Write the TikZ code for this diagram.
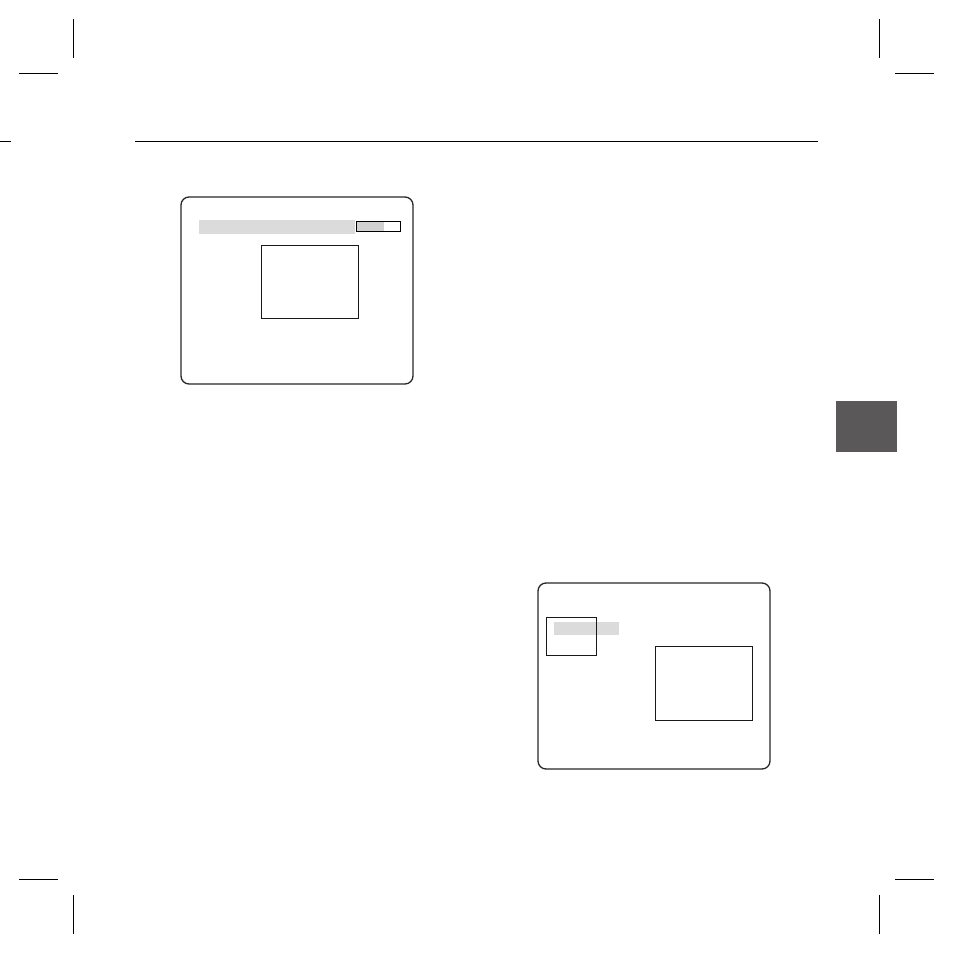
\documentclass[tikz,border=0pt]{standalone}
\begin{document}
\begin{tikzpicture}[x=1pt,y=-1pt,
  cropmark/.style={line width=0.9pt,black},
  screen/.style={draw=black!85,line width=1.3pt,rounded corners=8pt},
  frame/.style={draw=black!90,line width=1.2pt},
  graybar/.style={fill=black!14,draw=none}]
\useasboundingbox (0,0) rectangle (953,953);
% crop marks
\coordinate (tl1) at (73.3,19); \coordinate (tl2) at (73.3,58);
\draw[cropmark] (tl1) -- (tl2);
\coordinate (tl3) at (19,73); \coordinate (tl4) at (58,73);
\draw[cropmark] (tl3) -- (tl4);
\coordinate (tr1) at (879.5,19); \coordinate (tr2) at (879.5,58);
\draw[cropmark] (tr1) -- (tr2);
\coordinate (tr3) at (895,73); \coordinate (tr4) at (934,73);
\draw[cropmark] (tr3) -- (tr4);
\coordinate (bl1) at (19,879.5); \coordinate (bl2) at (58,879.5);
\draw[cropmark] (bl1) -- (bl2);
\coordinate (bl3) at (73.3,895); \coordinate (bl4) at (73.3,934);
\draw[cropmark] (bl3) -- (bl4);
\coordinate (br1) at (895,879.5); \coordinate (br2) at (934,879.5);
\draw[cropmark] (br1) -- (br2);
\coordinate (br3) at (879.5,895); \coordinate (br4) at (879.5,934);
\draw[cropmark] (br3) -- (br4);
\coordinate (lt1) at (0,141); \coordinate (lt2) at (11,141);
\draw[cropmark] (lt1) -- (lt2);
% top rule
\coordinate (r1) at (135,141); \coordinate (r2) at (818,141);
\draw[line width=1pt] (r1) -- (r2);
% dark tab
\fill[fill={rgb,255:red,90;green,88;blue,88}] (836,401) rectangle (897,452);
% screen 1
\draw[screen] (181,197) rectangle (413,384);
\fill[graybar] (199,220) rectangle (355,234);
\fill[fill=black!18] (357,222) rectangle (384,231);
\draw[line width=1pt] (356.5,221.5) rectangle (400.5,231.5);
\draw[frame] (261.5,245.5) rectangle (358.5,318.5);
% screen 2
\draw[screen] (538,583) rectangle (770,769);
\fill[graybar] (554,622) rectangle (619,635);
\draw[frame] (546.5,617.5) rectangle (596.5,655.5);
\draw[frame] (655.5,646.5) rectangle (752.5,720.5);
\end{tikzpicture}
\end{document}
